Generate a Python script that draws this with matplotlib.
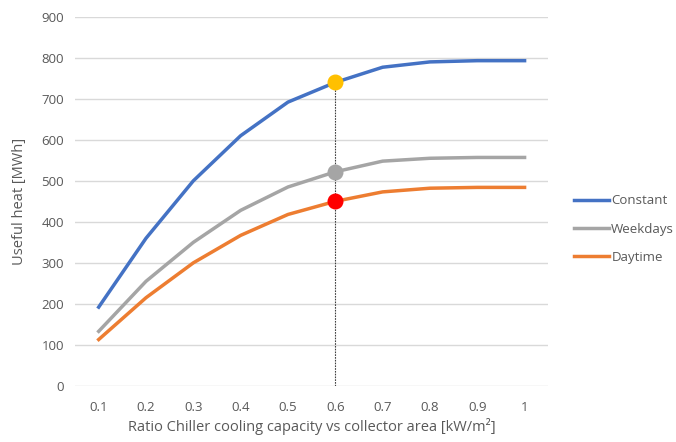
import matplotlib.pyplot as plt

plt.rcParams['font.family'] = ['Open Sans', 'DejaVu Sans']

# Données
ratios = ['0.1', '0.2', '0.3', '0.4', '0.5', '0.6', '0.7', '0.8', '0.9', '1']
constant = [192, 360, 500, 610, 692, 740, 777, 790, 793, 793]
weekdays = [133, 255, 350, 428, 485, 522, 548, 555, 557, 557]
daytime = [113, 215, 300, 367, 418, 450, 473, 482, 484, 484]
choix = 5  # ratio 0.6

fig = plt.figure(figsize=(6.76, 4.42), dpi=100)
ax = fig.add_axes([0.111, 0.127, 0.700, 0.835])

x = list(range(len(ratios)))
ax.plot(x, constant, color='#4472C4', lw=2.5, label='Constant', zorder=3)
ax.plot(x, weekdays, color='#A5A5A5', lw=2.5, label='Weekdays', zorder=3)
ax.plot(x, daytime, color='#ED7D31', lw=2.5, label='Daytime', zorder=3)

# Ligne verticale et points choisis
ax.vlines(choix, 0, constant[choix], colors='#404040', linestyles=(0, (1.5, 1)), lw=0.8, zorder=2)
ax.scatter([choix], [constant[choix]], s=110, color='#FFC000', zorder=4)
ax.scatter([choix], [weekdays[choix]], s=110, color='#A5A5A5', zorder=4)
ax.scatter([choix], [daytime[choix]], s=110, color='#FF0000', zorder=4)

ax.set_xlim(-0.5, len(ratios) - 0.5)
ax.set_ylim(0, 900)
ax.set_yticks(range(0, 901, 100))
ax.set_xticks(x)
ax.set_xticklabels(ratios)
ax.grid(axis='y', color='#D9D9D9', lw=1)
ax.set_axisbelow(True)
for s in ax.spines.values():
    s.set_visible(False)
ax.tick_params(length=0, colors='#595959', labelsize=9.5, pad=8)
ax.tick_params(axis='x', pad=11)

ax.set_xlabel('Ratio Chiller cooling capacity vs collector area [kW/m²]', color='#595959', fontsize=10.5, labelpad=3)
ax.set_ylabel('Useful heat [MWh]', color='#595959', fontsize=10.5, labelpad=10)

ax.legend(loc='center left', bbox_to_anchor=(1.03, 0.425), frameon=False, fontsize=9.5,
          labelcolor='#595959', handlelength=2.6, handletextpad=0.2, labelspacing=1.15)

fig.savefig('out.png')
